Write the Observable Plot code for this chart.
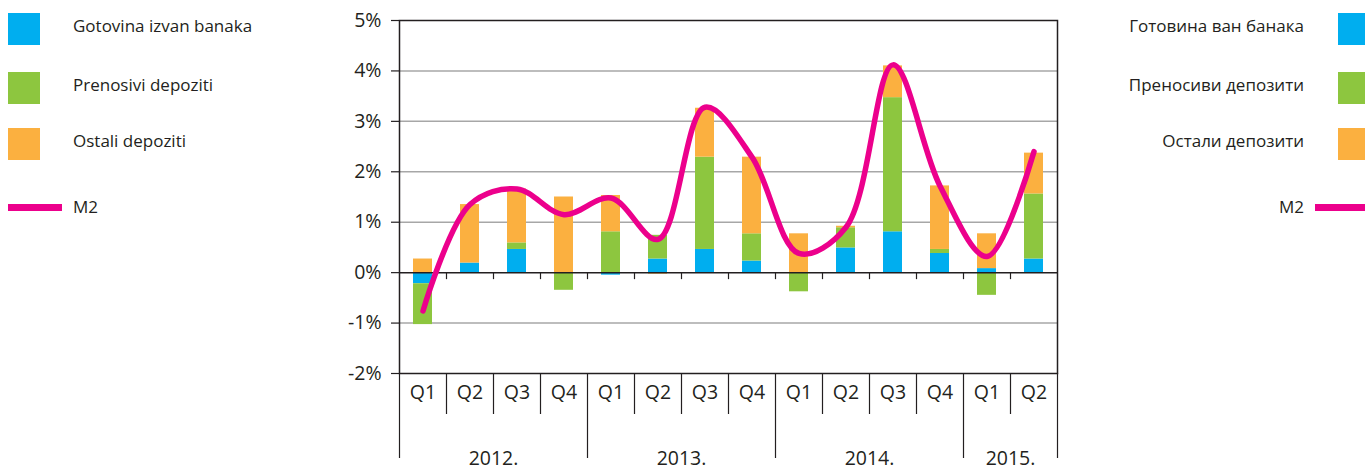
<!DOCTYPE html>
<html>
<head>
<meta charset="utf-8">
<script src="https://cdn.jsdelivr.net/npm/d3@7"></script>
<script src="https://cdn.jsdelivr.net/npm/@observablehq/plot@0.6"></script>
<style>
  html, body { margin: 0; padding: 0; background: #fff; }
  #wrap { position: relative; width: 1365px; height: 470px; overflow: hidden; font-family: "Open Sans", sans-serif; color: #231f20; }
  #chart { position: absolute; left: 0; top: 0; }
  .leg { position: absolute; font-size: 17px; line-height: 1; white-space: nowrap; }
  .sw { position: absolute; width: 32px; height: 32px; }
  .ln { position: absolute; height: 7px; }
</style>
</head>
<body>
<div id="wrap"><div id="chart"></div></div>
<script>
// ---- data ----
const quarters = ["Q1","Q2","Q3","Q4","Q1","Q2","Q3","Q4","Q1","Q2","Q3","Q4","Q1","Q2"];
const years = ["2012.","2013.","2014.","2015."];
const quartersPerYear = [4, 4, 4, 2];
const seriesLat = ["Gotovina izvan banaka", "Prenosivi depoziti", "Ostali depoziti"];
const seriesCyr = ["Готовина ван банака", "Преносиви депозити", "Остали депозити"];
const lineLat = "M2";
const lineCyr = "M2";
const gotovina  = [-0.22, 0.19, 0.46, 0.00, -0.05, 0.27, 0.46, 0.23, 0.00, 0.49, 0.81, 0.38, 0.08, 0.27];
const prenosivi = [-0.81, 0.00, 0.13, -0.35, 0.81, 0.47, 1.83, 0.54, -0.38, 0.40, 2.66, 0.08, -0.45, 1.29];
const ostali    = [0.27, 1.16, 1.07, 1.50, 0.72, -0.03, 0.97, 1.52, 0.77, 0.03, 0.63, 1.26, 0.69, 0.81];
const m2        = [-0.76, 1.35, 1.66, 1.15, 1.48, 0.66, 3.28, 2.29, 0.38, 0.90, 4.12, 1.72, 0.32, 2.40];
const yTicks = [-2, -1, 0, 1, 2, 3, 4, 5];
const colors = ["#00aeef", "#8dc63f", "#fbb040"];
const lineColor = "#ec008c";

// ---- derived tables ----
const seriesValues = [gotovina, prenosivi, ostali];
const table = [];
seriesLat.forEach((s, k) => seriesValues[k].forEach((v, i) => table.push({i, series: s, value: v})));
const m2Rows = m2.map((v, i) => ({i, value: v}));
const boundaries = d3.range(quarters.length + 1);
const yearStarts = [0];
quartersPerYear.forEach(n => yearStarts.push(yearStarts[yearStarts.length - 1] + n));
const quarterBounds = boundaries.filter(b => !yearStarts.includes(b));
const yearRows = years.map((y, k) => ({label: y, c: (yearStarts[k] + yearStarts[k + 1]) / 2}));
const ink = "#231f20";

const chart = Plot.plot({
  width: 1365, height: 470,
  marginLeft: 399, marginRight: 308, marginTop: 20, marginBottom: 97,
  x: {type: "linear", domain: [0, quarters.length], axis: null, label: null},
  y: {domain: [-2, 5], axis: null, label: null},
  color: {domain: seriesLat, range: colors},
  style: {fontFamily: "Open Sans", fontSize: "17px", color: ink, background: "transparent"},
  marks: [
    Plot.ruleY(yTicks.filter(t => t !== 0 && t !== -2 && t !== 5), {stroke: "#a7a7a7", strokeWidth: 1.5}),
    Plot.rectY(table, {x1: d => d.i, x2: d => d.i + 1, y: "value", fill: "series", insetLeft: 14, insetRight: 14}),
    Plot.ruleY([0], {stroke: ink, strokeWidth: 1.5}),
    Plot.ruleX(boundaries.slice(1, -1), {x: d => d, y1: 0, y2: 0, insetBottom: -7, stroke: ink, strokeWidth: 1.2}),
    Plot.frame({stroke: ink, strokeWidth: 1.5}),
    Plot.axisY(yTicks, {label: null, tickSize: 8, tickPadding: 10, tickFormat: d => d + "%", fontSize: 19.5, stroke: ink, strokeWidth: 1.2}),
    Plot.axisX(quarterBounds, {label: null, tickSize: 41, tickFormat: () => "", stroke: ink, strokeWidth: 1.2}),
    Plot.axisX(yearStarts, {label: null, tickSize: 85, tickFormat: () => "", stroke: ink, strokeWidth: 1.2}),
    Plot.text(quarters, {x: (d, i) => i + 0.5, text: d => d, frameAnchor: "bottom", dy: 25, fontSize: 19.5, fill: ink}),
    Plot.text(yearRows, {x: "c", text: "label", frameAnchor: "bottom", dy: 91, fontSize: 19.5, fill: ink}),
    Plot.line(m2Rows, {x: d => d.i + 0.5, y: "value", curve: "catmull-rom", stroke: lineColor, strokeWidth: 5.5, strokeLinecap: "round"})
  ]
});
document.getElementById("chart").appendChild(chart);

// ---- legends (HTML) ----
const wrap = document.getElementById("wrap");
const rowsY = [29, 88, 144];
function add(cls, style, text) {
  const el = document.createElement("div");
  el.className = cls;
  Object.assign(el.style, style);
  if (text != null) el.textContent = text;
  wrap.appendChild(el);
  return el;
}
seriesLat.forEach((s, k) => {
  add("sw", {left: "8px", top: (rowsY[k] - 16) + "px", background: colors[k]});
  add("leg", {left: "73px", top: (rowsY[k] - 3 - 9) + "px"}, s);
});
add("ln", {left: "8px", width: "54px", top: "204px", background: lineColor});
add("leg", {left: "73px", top: "198px"}, lineLat);

seriesCyr.forEach((s, k) => {
  add("sw", {left: "1338px", top: (rowsY[k] - 16) + "px", background: colors[k]});
  add("leg", {right: (1365 - 1304) + "px", top: (rowsY[k] - 3 - 9) + "px"}, s);
});
add("ln", {left: "1315px", width: "50px", top: "204px", background: lineColor});
add("leg", {right: (1365 - 1304) + "px", top: "198px"}, lineCyr);
</script>
</body>
</html>
